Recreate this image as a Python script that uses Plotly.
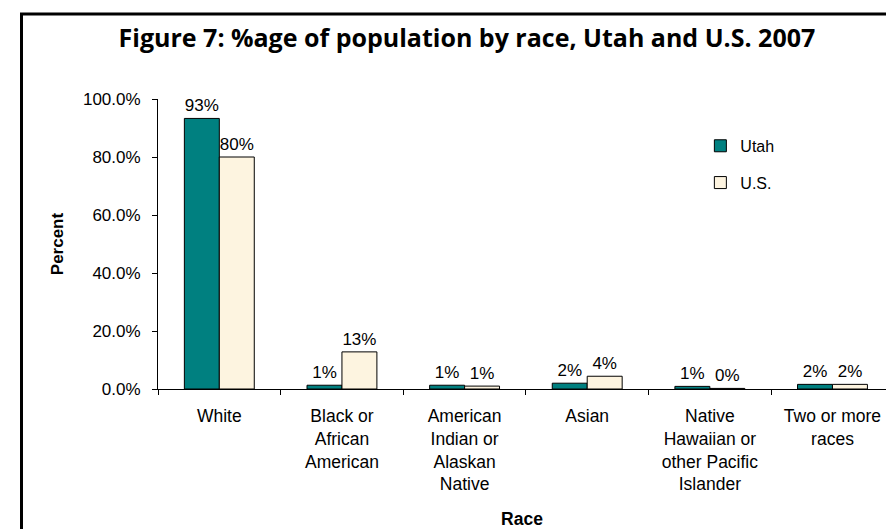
import plotly.graph_objects as go

races = ['White', 'Black or African American', 'American Indian or Alaskan Native',
         'Asian', 'Native Hawaiian or other Pacific Islander', 'Two or more races']
tick_labels = ['White', 'Black or<br>African<br>American', 'American<br>Indian or<br>Alaskan<br>Native',
               'Asian', 'Native<br>Hawaiian or<br>other Pacific<br>Islander', 'Two or more<br>races']
utah = [93.3, 1.3, 1.3, 2.0, 0.9, 1.6]
us = [80.0, 12.8, 1.0, 4.4, 0.2, 1.6]

FONT = 'Liberation Sans, Arial, sans-serif'

fig = go.Figure()
fig.add_trace(go.Bar(x=races, y=utah, name='Utah', legendgroup='a',
                     marker=dict(color='#008080', line=dict(color='black', width=1)),
                     texttemplate='%{y:.0f}%', textposition='outside', cliponaxis=False,
                     textfont=dict(size=17, color='black')))
fig.add_trace(go.Bar(x=races, y=us, name='U.S.', legendgroup='b',
                     marker=dict(color='#FDF4E0', line=dict(color='black', width=1)),
                     texttemplate='%{y:.0f}%', textposition='outside', cliponaxis=False,
                     textfont=dict(size=17, color='black')))

# frame: only left and top edges are inside the picture
fig.add_shape(type='rect', xref='paper', yref='paper',
              x0=-0.1875, x1=1.1, y0=-0.7, y1=1.293,
              line=dict(color='black', width=3))

fig.update_layout(
    width=886, height=529, autosize=False,
    margin=dict(l=158, r=0, t=99, b=140),
    paper_bgcolor='white', plot_bgcolor='white',
    font=dict(family=FONT, color='black'),
    barmode='group', bargap=0.43, bargroupgap=0,
    title=dict(text='<b>Figure 7: %age of population by race, Utah and U.S. 2007</b>',
               font=dict(family='Open Sans, sans-serif', size=25, color='black'),
               x=0.527, xref='container', xanchor='center',
               y=1 - 38 / 529, yref='container', yanchor='middle'),
    legend=dict(x=0.745, y=0.897, xanchor='left', yanchor='top',
                font=dict(size=16), bgcolor='rgba(0,0,0,0)',
                tracegroupgap=13, itemclick=False),
)
fig.update_xaxes(type='category', tickvals=races, ticktext=tick_labels,
                 range=[-0.5, -0.5 + 728.4 / 122.7],
                 tickson='boundaries', ticks='outside', ticklen=5, tickcolor='black',
                 showline=True, linecolor='black', linewidth=1, showgrid=False,
                 tickfont=dict(size=17.5), ticklabelstandoff=11,
                 title=dict(text='<b>Race</b>', font=dict(size=17.5), standoff=20))
fig.update_yaxes(range=[0, 100], dtick=20, tickformat='.1f', ticksuffix='%',
                 ticks='outside', ticklen=5, tickcolor='black',
                 showline=True, linecolor='black', linewidth=1,
                 showgrid=False, zeroline=False,
                 tickfont=dict(size=17), ticklabelstandoff=8,
                 title=dict(text='<b>Percent</b>', font=dict(size=17), standoff=14))

# the page's default body margin would push the chart 8px right and down
fig.write_html('out.html', config={'displayModeBar': False},
               post_script="document.body.style.margin='0';")
